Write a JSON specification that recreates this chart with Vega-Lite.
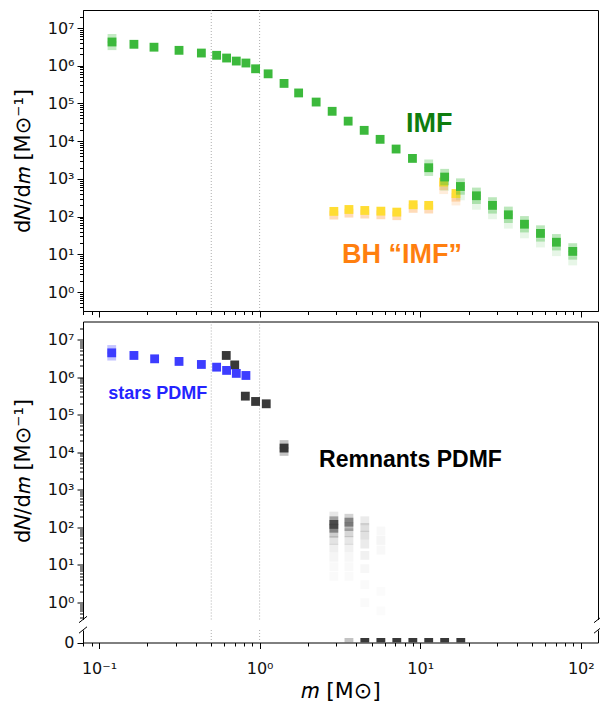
{
  "$schema": "https://vega.github.io/schema/vega-lite/v6.json",
  "padding": {"left": 12, "top": 8, "right": 0, "bottom": 0},
  "background": "white",
  "spacing": 10.5,
  "bounds": "flush",
  "config": {
    "view": {"stroke": null},
    "axis": {"domainColor": "black", "tickColor": "black", "labelColor": "#111111", "labelFont": "DejaVu Sans", "labelFontSize": 16, "titleFont": "DejaVu Sans", "titleFontWeight": "normal", "titleColor": "black", "grid": false, "tickWidth": 1, "domainWidth": 1, "labelOverlap": false, "labelFlush": false}
  },
  "datasets": {
    "vlines": [{"m": 0.5}, {"m": 1}],
    "top": [
      {"m": 2.9, "n": 110, "s": "bhlow", "w": 0.4},
      {"m": 3.6, "n": 124, "s": "bhlow", "w": 0.4},
      {"m": 4.52, "n": 117, "s": "bhlow", "w": 0.4},
      {"m": 5.69, "n": 112, "s": "bhlow", "w": 0.4},
      {"m": 7.15, "n": 106, "s": "bhlow", "w": 0.4},
      {"m": 9.04, "n": 166, "s": "bhlow", "w": 0.4},
      {"m": 11.3, "n": 159, "s": "bhlow", "w": 0.4},
      {"m": 14.0, "n": 660, "s": "bhlow", "w": 0.4},
      {"m": 14.0, "n": 520, "s": "bhlow", "w": 0.2},
      {"m": 16.7, "n": 328, "s": "bhlow", "w": 0.4},
      {"m": 16.7, "n": 260, "s": "bhlow", "w": 0.2},
      {"m": 2.9, "n": 138, "s": "bh", "w": 1},
      {"m": 3.6, "n": 155, "s": "bh", "w": 1},
      {"m": 4.52, "n": 146, "s": "bh", "w": 1},
      {"m": 5.69, "n": 140, "s": "bh", "w": 1},
      {"m": 7.15, "n": 132, "s": "bh", "w": 1},
      {"m": 9.04, "n": 207, "s": "bh", "w": 1},
      {"m": 11.3, "n": 199, "s": "bh", "w": 1},
      {"m": 14.0, "n": 824, "s": "bh", "w": 1},
      {"m": 16.7, "n": 410, "s": "bh", "w": 1},
      {"m": 0.1205, "n": 5300000, "s": "imf", "w": 0.3},
      {"m": 0.1205, "n": 3400000, "s": "imf", "w": 0.3},
      {"m": 11.3, "n": 2500, "s": "imf", "w": 0.3},
      {"m": 11.3, "n": 1570, "s": "imf", "w": 0.3},
      {"m": 14.2, "n": 1410, "s": "imf", "w": 0.35},
      {"m": 14.2, "n": 890, "s": "imf", "w": 0.35},
      {"m": 14.2, "n": 630, "s": "imf", "w": 0.12},
      {"m": 17.8, "n": 790, "s": "imf", "w": 0.35},
      {"m": 17.8, "n": 500, "s": "imf", "w": 0.35},
      {"m": 17.8, "n": 355, "s": "imf", "w": 0.12},
      {"m": 22.4, "n": 450, "s": "imf", "w": 0.35},
      {"m": 22.4, "n": 284, "s": "imf", "w": 0.35},
      {"m": 22.4, "n": 200, "s": "imf", "w": 0.12},
      {"m": 28.2, "n": 250, "s": "imf", "w": 0.35},
      {"m": 28.2, "n": 158, "s": "imf", "w": 0.35},
      {"m": 28.2, "n": 112, "s": "imf", "w": 0.12},
      {"m": 35.4, "n": 141, "s": "imf", "w": 0.35},
      {"m": 35.4, "n": 89, "s": "imf", "w": 0.35},
      {"m": 35.4, "n": 63, "s": "imf", "w": 0.12},
      {"m": 44.6, "n": 79, "s": "imf", "w": 0.35},
      {"m": 44.6, "n": 50, "s": "imf", "w": 0.35},
      {"m": 44.6, "n": 35, "s": "imf", "w": 0.12},
      {"m": 56.1, "n": 45, "s": "imf", "w": 0.35},
      {"m": 56.1, "n": 28.6, "s": "imf", "w": 0.35},
      {"m": 56.1, "n": 20, "s": "imf", "w": 0.12},
      {"m": 70.5, "n": 26.4, "s": "imf", "w": 0.35},
      {"m": 70.5, "n": 16.7, "s": "imf", "w": 0.35},
      {"m": 70.5, "n": 11.8, "s": "imf", "w": 0.12},
      {"m": 89.1, "n": 15.1, "s": "imf", "w": 0.35},
      {"m": 89.1, "n": 9.5, "s": "imf", "w": 0.35},
      {"m": 89.1, "n": 6.7, "s": "imf", "w": 0.12},
      {"m": 0.1205, "n": 4260000, "s": "imf", "w": 1},
      {"m": 0.165, "n": 3700000, "s": "imf", "w": 1},
      {"m": 0.22, "n": 3100000, "s": "imf", "w": 1},
      {"m": 0.315, "n": 2560000, "s": "imf", "w": 1},
      {"m": 0.434, "n": 2170000, "s": "imf", "w": 1},
      {"m": 0.54, "n": 1890000, "s": "imf", "w": 1},
      {"m": 0.623, "n": 1600000, "s": "imf", "w": 1},
      {"m": 0.716, "n": 1330000, "s": "imf", "w": 1},
      {"m": 0.822, "n": 1180000, "s": "imf", "w": 1},
      {"m": 0.944, "n": 830000, "s": "imf", "w": 1},
      {"m": 1.13, "n": 610000, "s": "imf", "w": 1},
      {"m": 1.42, "n": 340000, "s": "imf", "w": 1},
      {"m": 1.75, "n": 190000, "s": "imf", "w": 1},
      {"m": 2.25, "n": 109000, "s": "imf", "w": 1},
      {"m": 2.83, "n": 62000, "s": "imf", "w": 1},
      {"m": 3.56, "n": 34000, "s": "imf", "w": 1},
      {"m": 4.48, "n": 19400, "s": "imf", "w": 1},
      {"m": 5.63, "n": 11200, "s": "imf", "w": 1},
      {"m": 7.08, "n": 6200, "s": "imf", "w": 1},
      {"m": 8.95, "n": 3500, "s": "imf", "w": 1},
      {"m": 11.3, "n": 1980, "s": "imf", "w": 1},
      {"m": 14.2, "n": 1120, "s": "imf", "w": 1},
      {"m": 17.8, "n": 630, "s": "imf", "w": 1},
      {"m": 22.4, "n": 357, "s": "imf", "w": 1},
      {"m": 28.2, "n": 199, "s": "imf", "w": 1},
      {"m": 35.4, "n": 112, "s": "imf", "w": 1},
      {"m": 44.6, "n": 63, "s": "imf", "w": 1},
      {"m": 56.1, "n": 36, "s": "imf", "w": 1},
      {"m": 70.5, "n": 21, "s": "imf", "w": 1},
      {"m": 89.1, "n": 12, "s": "imf", "w": 1}
    ],
    "mid": [
      {"m": 2.9, "n": 200, "s": "rem", "w": 0.12},
      {"m": 2.9, "n": 150, "s": "rem", "w": 0.4},
      {"m": 2.9, "n": 120, "s": "rem", "w": 0.85},
      {"m": 2.9, "n": 95, "s": "rem", "w": 0.5},
      {"m": 2.9, "n": 70, "s": "rem", "w": 0.25},
      {"m": 2.9, "n": 45, "s": "rem", "w": 0.14},
      {"m": 2.9, "n": 28, "s": "rem", "w": 0.08},
      {"m": 2.9, "n": 16, "s": "rem", "w": 0.05},
      {"m": 2.9, "n": 9, "s": "rem", "w": 0.03},
      {"m": 2.9, "n": 5, "s": "rem", "w": 0.025},
      {"m": 3.6, "n": 175, "s": "rem", "w": 0.22},
      {"m": 3.6, "n": 138, "s": "rem", "w": 0.5},
      {"m": 3.6, "n": 105, "s": "rem", "w": 0.35},
      {"m": 3.6, "n": 72, "s": "rem", "w": 0.2},
      {"m": 3.6, "n": 45, "s": "rem", "w": 0.12},
      {"m": 3.6, "n": 28, "s": "rem", "w": 0.07},
      {"m": 3.6, "n": 16, "s": "rem", "w": 0.04},
      {"m": 3.6, "n": 9, "s": "rem", "w": 0.03},
      {"m": 3.6, "n": 5, "s": "rem", "w": 0.025},
      {"m": 4.52, "n": 150, "s": "rem", "w": 0.1},
      {"m": 4.52, "n": 100, "s": "rem", "w": 0.16},
      {"m": 4.52, "n": 62, "s": "rem", "w": 0.15},
      {"m": 4.52, "n": 36, "s": "rem", "w": 0.1},
      {"m": 4.52, "n": 18, "s": "rem", "w": 0.07},
      {"m": 4.52, "n": 8, "s": "rem", "w": 0.04},
      {"m": 4.52, "n": 3, "s": "rem", "w": 0.025},
      {"m": 4.52, "n": 1, "s": "rem", "w": 0.025},
      {"m": 5.69, "n": 80, "s": "rem", "w": 0.035},
      {"m": 5.69, "n": 45, "s": "rem", "w": 0.05},
      {"m": 5.69, "n": 25, "s": "rem", "w": 0.035},
      {"m": 5.69, "n": 2, "s": "rem", "w": 0.02},
      {"m": 5.69, "n": 0.6, "s": "rem", "w": 0.02},
      {"m": 1.42, "n": 16000, "s": "rem", "w": 0.3},
      {"m": 1.42, "n": 10500, "s": "rem", "w": 0.3},
      {"m": 0.62, "n": 3750000, "s": "rem", "w": 1},
      {"m": 0.70, "n": 2100000, "s": "rem", "w": 1},
      {"m": 0.815, "n": 310000, "s": "rem", "w": 1},
      {"m": 0.944, "n": 224000, "s": "rem", "w": 1},
      {"m": 1.10, "n": 194000, "s": "rem", "w": 1},
      {"m": 1.42, "n": 12900, "s": "rem", "w": 1},
      {"m": 0.12, "n": 5400000, "s": "stars", "w": 0.3},
      {"m": 0.12, "n": 3600000, "s": "stars", "w": 0.3},
      {"m": 0.12, "n": 4400000, "s": "stars", "w": 1},
      {"m": 0.165, "n": 3750000, "s": "stars", "w": 1},
      {"m": 0.222, "n": 3050000, "s": "stars", "w": 1},
      {"m": 0.315, "n": 2600000, "s": "stars", "w": 1},
      {"m": 0.434, "n": 2160000, "s": "stars", "w": 1},
      {"m": 0.54, "n": 1830000, "s": "stars", "w": 1},
      {"m": 0.623, "n": 1500000, "s": "stars", "w": 1},
      {"m": 0.716, "n": 1250000, "s": "stars", "w": 1},
      {"m": 0.822, "n": 1100000, "s": "stars", "w": 1}
    ],
    "zero": [
      {"m": 3.6, "n": 0, "s": "rem", "w": 0.3},
      {"m": 4.52, "n": 0, "s": "rem", "w": 1},
      {"m": 5.69, "n": 0, "s": "rem", "w": 1},
      {"m": 7.15, "n": 0, "s": "rem", "w": 1},
      {"m": 9.0, "n": 0, "s": "rem", "w": 1},
      {"m": 11.3, "n": 0, "s": "rem", "w": 1},
      {"m": 14.2, "n": 0, "s": "rem", "w": 1},
      {"m": 17.9, "n": 0, "s": "rem", "w": 1}
    ],
    "breakMid": [{"m": 0.0795, "n": 0.355}, {"m": 128, "n": 0.355}],
    "breakLow": [{"m": 0.0795, "n": 1}, {"m": 128, "n": 1}]
  },
  "vconcat": [
    {
      "width": 515,
      "height": 301,
      "view": {"stroke": "black", "strokeWidth": 1},
      "resolve": {"axis": {"x": "independent", "y": "independent"}},
      "layer": [
        {
          "data": {"name": "vlines"},
          "mark": {"type": "rule", "color": "#999999", "strokeDash": [1, 2], "strokeWidth": 0.8},
          "encoding": {"x": {"field": "m", "type": "quantitative", "scale": {"type": "log", "domain": [0.0795, 128], "nice": false}, "axis": null}}
        },
        {
          "data": {"name": "top"},
          "mark": {"type": "point", "shape": "square", "filled": true, "size": 78},
          "encoding": {
            "x": {"field": "m", "type": "quantitative", "scale": {"type": "log", "domain": [0.0795, 128], "nice": false},
              "axis": {"values": [0.08,0.09,0.1,0.2,0.3,0.4,0.5,0.6,0.7,0.8,0.9,1,2,3,4,5,6,7,8,9,10,20,30,40,50,60,70,80,90,100], "labels": false, "title": null,
                "tickSize": {"condition": {"test": "abs(log(datum.value)/LN10 - round(log(datum.value)/LN10)) < 0.01", "value": 6}, "value": 3.5}}},
            "y": {"field": "n", "type": "quantitative", "scale": {"type": "log", "domain": [0.316, 30000000], "nice": false},
              "axis": {"values": [0.4,0.5,0.6,0.7,0.8,0.9,1,2,3,4,5,6,7,8,9,10,20,30,40,50,60,70,80,90,100,200,300,400,500,600,700,800,900,1000,2000,3000,4000,5000,6000,7000,8000,9000,10000,20000,30000,40000,50000,60000,70000,80000,90000,100000,200000,300000,400000,500000,600000,700000,800000,900000,1000000,2000000,3000000,4000000,5000000,6000000,7000000,8000000,9000000,10000000,20000000],
                "labelExpr": "abs(log(datum.value)/LN10 - round(log(datum.value)/LN10)) < 0.01 ? '10' + ['⁻¹','⁰','¹','²','³','⁴','⁵','⁶','⁷'][round(log(datum.value)/LN10) + 1] : ''",
                "tickSize": {"condition": {"test": "abs(log(datum.value)/LN10 - round(log(datum.value)/LN10)) < 0.01", "value": 6}, "value": 3.5},
                "labelPadding": 3, "title": "d𝑁/d𝑚 [M⊙⁻¹]", "titleFontSize": 21, "titlePadding": 13.5}},
            "color": {"field": "s", "type": "nominal", "scale": {"domain": ["imf", "bh", "bhlow", "stars", "rem"], "range": ["#3cb93c", "#ffdd33", "#ffa64d", "#3d3dff", "#383838"]}, "legend": null},
            "opacity": {"field": "w", "type": "quantitative", "scale": null, "legend": null}
          }
        },
        {
          "data": {"values": [{"m": 11.4, "n": 28500, "t": "IMF"}]},
          "mark": {"type": "text", "font": "Liberation Sans", "fontWeight": "bold", "fontSize": 27, "color": "#0e7d0e", "align": "center", "baseline": "middle"},
          "encoding": {
            "x": {"field": "m", "type": "quantitative", "scale": {"type": "log", "domain": [0.0795, 128], "nice": false}, "axis": null},
            "y": {"field": "n", "type": "quantitative", "scale": {"type": "log", "domain": [0.316, 30000000], "nice": false}, "axis": null},
            "text": {"field": "t"}
          }
        },
        {
          "data": {"values": [{"m": 7.7, "n": 9.6, "t": "BH “IMF”"}]},
          "mark": {"type": "text", "font": "Liberation Sans", "fontWeight": "bold", "fontSize": 27, "color": "#ff7f0f", "align": "center", "baseline": "middle"},
          "encoding": {
            "x": {"field": "m", "type": "quantitative", "scale": {"type": "log", "domain": [0.0795, 128], "nice": false}, "axis": null},
            "y": {"field": "n", "type": "quantitative", "scale": {"type": "log", "domain": [0.316, 30000000], "nice": false}, "axis": null},
            "text": {"field": "t"}
          }
        }
      ]
    },
    {
      "width": 515,
      "height": 298,
      "resolve": {"axis": {"x": "independent", "y": "independent"}},
      "layer": [
        {
          "data": {"name": "vlines"},
          "mark": {"type": "rule", "color": "#999999", "strokeDash": [1, 2], "strokeWidth": 0.8},
          "encoding": {"x": {"field": "m", "type": "quantitative", "scale": {"type": "log", "domain": [0.0795, 128], "nice": false}, "axis": null}}
        },
        {
          "data": {"name": "mid"},
          "mark": {"type": "point", "shape": "square", "filled": true, "size": 78},
          "encoding": {
            "x": {"field": "m", "type": "quantitative", "scale": {"type": "log", "domain": [0.0795, 128], "nice": false}, "axis": null},
            "y": {"field": "n", "type": "quantitative", "scale": {"type": "log", "domain": [0.355, 30000000], "nice": false},
              "axis": {"values": [0.4,0.5,0.6,0.7,0.8,0.9,1,2,3,4,5,6,7,8,9,10,20,30,40,50,60,70,80,90,100,200,300,400,500,600,700,800,900,1000,2000,3000,4000,5000,6000,7000,8000,9000,10000,20000,30000,40000,50000,60000,70000,80000,90000,100000,200000,300000,400000,500000,600000,700000,800000,900000,1000000,2000000,3000000,4000000,5000000,6000000,7000000,8000000,9000000,10000000,20000000],
                "labelExpr": "abs(log(datum.value)/LN10 - round(log(datum.value)/LN10)) < 0.01 ? '10' + ['⁻¹','⁰','¹','²','³','⁴','⁵','⁶','⁷'][round(log(datum.value)/LN10) + 1] : ''",
                "tickSize": {"condition": {"test": "abs(log(datum.value)/LN10 - round(log(datum.value)/LN10)) < 0.01", "value": 6}, "value": 3.5},
                "labelPadding": 3, "title": "d𝑁/d𝑚 [M⊙⁻¹]", "titleFontSize": 21, "titlePadding": 13.5}},
            "color": {"field": "s", "type": "nominal", "scale": {"domain": ["imf", "bh", "bhlow", "stars", "rem"], "range": ["#3cb93c", "#ffdd33", "#ffa64d", "#3d3dff", "#383838"]}, "legend": null},
            "opacity": {"field": "w", "type": "quantitative", "scale": null, "legend": null}
          }
        },
        {
          "data": {"values": [{"m": 0.232, "n": 350000, "t": "stars PDMF"}]},
          "mark": {"type": "text", "font": "Liberation Sans", "fontWeight": "bold", "fontSize": 18, "color": "#2424ff", "align": "center", "baseline": "middle"},
          "encoding": {
            "x": {"field": "m", "type": "quantitative", "scale": {"type": "log", "domain": [0.0795, 128], "nice": false}, "axis": null},
            "y": {"field": "n", "type": "quantitative", "scale": {"type": "log", "domain": [0.355, 30000000], "nice": false}, "axis": null},
            "text": {"field": "t"}
          }
        },
        {
          "data": {"values": [{"m": 8.7, "n": 6200, "t": "Remnants PDMF"}]},
          "mark": {"type": "text", "font": "Liberation Sans", "fontWeight": "bold", "fontSize": 23, "color": "#000000", "align": "center", "baseline": "middle"},
          "encoding": {
            "x": {"field": "m", "type": "quantitative", "scale": {"type": "log", "domain": [0.0795, 128], "nice": false}, "axis": null},
            "y": {"field": "n", "type": "quantitative", "scale": {"type": "log", "domain": [0.355, 30000000], "nice": false}, "axis": null},
            "text": {"field": "t"}
          }
        },
        {
          "data": {"name": "breakMid"},
          "mark": {"type": "point", "shape": "M -1 0.8 L 1 -0.8", "size": 64, "filled": false, "color": "black", "strokeWidth": 1, "opacity": 1},
          "encoding": {
            "x": {"field": "m", "type": "quantitative", "scale": {"type": "log", "domain": [0.0795, 128], "nice": false},
              "axis": {"orient": "top", "ticks": false, "labels": false, "title": null, "domain": true}},
            "y": {"field": "n", "type": "quantitative", "scale": {"type": "log", "domain": [0.355, 30000000], "nice": false},
              "axis": {"orient": "right", "ticks": false, "labels": false, "title": null, "domain": true}}
          }
        }
      ]
    },
    {
      "width": 515,
      "height": 12.5,
      "resolve": {"axis": {"x": "independent", "y": "independent"}},
      "layer": [
        {
          "data": {"name": "vlines"},
          "mark": {"type": "rule", "color": "#999999", "strokeDash": [1, 2], "strokeWidth": 0.8},
          "encoding": {"x": {"field": "m", "type": "quantitative", "scale": {"type": "log", "domain": [0.0795, 128], "nice": false}, "axis": null}}
        },
        {
          "data": {"name": "zero"},
          "mark": {"type": "point", "shape": "square", "filled": true, "size": 78, "clip": true},
          "encoding": {
            "x": {"field": "m", "type": "quantitative", "scale": {"type": "log", "domain": [0.0795, 128], "nice": false},
              "axis": {"values": [0.08,0.09,0.1,0.2,0.3,0.4,0.5,0.6,0.7,0.8,0.9,1,2,3,4,5,6,7,8,9,10,20,30,40,50,60,70,80,90,100],
                "labelExpr": "abs(log(datum.value)/LN10 - round(log(datum.value)/LN10)) < 0.01 ? '10' + ['⁻¹','⁰','¹','²','³','⁴','⁵','⁶','⁷'][round(log(datum.value)/LN10) + 1] : ''",
                "tickSize": {"condition": {"test": "abs(log(datum.value)/LN10 - round(log(datum.value)/LN10)) < 0.01", "value": 6}, "value": 3.5},
                "labelPadding": 12, "title": "𝑚 [M⊙]", "titleFontSize": 22, "titlePadding": 4}},
            "y": {"field": "n", "type": "quantitative", "scale": {"type": "linear", "domain": [0, 1], "nice": false},
              "axis": {"values": [0], "tickSize": 6, "labelPadding": 3, "title": null}},
            "color": {"field": "s", "type": "nominal", "scale": {"domain": ["imf", "bh", "bhlow", "stars", "rem"], "range": ["#3cb93c", "#ffdd33", "#ffa64d", "#3d3dff", "#383838"]}, "legend": null},
            "opacity": {"field": "w", "type": "quantitative", "scale": null, "legend": null}
          }
        },
        {
          "data": {"name": "breakLow"},
          "mark": {"type": "point", "shape": "M -1 0.8 L 1 -0.8", "size": 64, "filled": false, "color": "black", "strokeWidth": 1, "opacity": 1},
          "encoding": {
            "x": {"field": "m", "type": "quantitative", "scale": {"type": "log", "domain": [0.0795, 128], "nice": false}, "axis": null},
            "y": {"field": "n", "type": "quantitative", "scale": {"type": "linear", "domain": [0, 1], "nice": false},
              "axis": {"orient": "right", "ticks": false, "labels": false, "title": null, "domain": true}}
          }
        }
      ]
    }
  ]
}
